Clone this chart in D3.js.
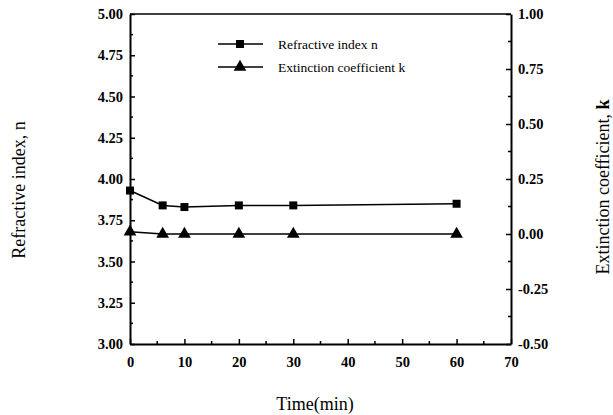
<!DOCTYPE html>
<html>
<head>
<meta charset="utf-8">
<script src="https://cdn.jsdelivr.net/npm/d3@7"></script>
<style>
  body { margin: 0; background: #fff; }
  svg text { font-family: "Liberation Serif", "Times New Roman", serif; fill: #000; }
  .tick-label { font-size: 14.5px; font-weight: bold; }
  .title { font-size: 18px; }
  .legend { font-size: 13.5px; }
</style>
</head>
<body>
<div id="chart"></div>
<script>
// Data
const times = [0, 6, 10, 20, 30, 60];
const refractiveN = [3.93, 3.84, 3.83, 3.84, 3.84, 3.85];
const extinctionK = [0.01, 0.0, 0.0, 0.0, 0.0, 0.0];
const xTicks = [0, 10, 20, 30, 40, 50, 60, 70];
const nTicks = [3.00, 3.25, 3.50, 3.75, 4.00, 4.25, 4.50, 4.75, 5.00];
const kTicks = [-0.50, -0.25, 0.00, 0.25, 0.50, 0.75, 1.00];

const W = 613, H = 415;
const margin = { top: 14, right: 102, bottom: 71, left: 130 };
const width = W - margin.left - margin.right;
const height = H - margin.top - margin.bottom;

const svg = d3.select("#chart").append("svg")
    .attr("width", W).attr("height", H);

const g = svg.append("g")
    .attr("transform", `translate(${margin.left},${margin.top})`);

const x = d3.scaleLinear().domain([0, 70]).range([0, width]);
const yN = d3.scaleLinear().domain([3, 5]).range([height, 0]);
const yK = d3.scaleLinear().domain([-0.5, 1]).range([height, 0]);

const fmt2 = d => d3.format(".2f")(d).replace("\u2212", "-");

// frame top line
g.append("line").attr("x1", 0).attr("x2", width).attr("y1", 0).attr("y2", 0)
    .attr("stroke", "#000").attr("stroke-width", 1.5);

// minor ticks
const minorX = d3.range(5, 70, 10);
g.selectAll(".mx").data(minorX).enter().append("line")
    .attr("x1", d => x(d)).attr("x2", d => x(d))
    .attr("y1", height).attr("y2", height - 3)
    .attr("stroke", "#000").attr("stroke-width", 1.5);
const minorN = d3.range(3.125, 5, 0.25);
g.selectAll(".mn").data(minorN).enter().append("line")
    .attr("x1", 0).attr("x2", 3)
    .attr("y1", d => yN(d)).attr("y2", d => yN(d))
    .attr("stroke", "#000").attr("stroke-width", 1.5);
const minorK = d3.range(-0.375, 1, 0.25);
g.selectAll(".mk").data(minorK).enter().append("line")
    .attr("x1", width).attr("x2", width - 3)
    .attr("y1", d => yK(d)).attr("y2", d => yK(d))
    .attr("stroke", "#000").attr("stroke-width", 1.5);

function styleAxis(sel) {
    sel.attr("font-family", null).attr("font-size", null);
    sel.select(".domain").attr("stroke-width", 2);
    sel.selectAll(".tick line").attr("stroke-width", 1.5);
    sel.selectAll(".tick text").attr("class", "tick-label");
}

g.append("g")
    .attr("transform", `translate(0,${height})`)
    .call(d3.axisBottom(x).tickValues(xTicks).tickSizeInner(-5).tickSizeOuter(0).tickPadding(13).tickFormat(d3.format("d")))
    .call(styleAxis);

g.append("g")
    .call(d3.axisLeft(yN).tickValues(nTicks).tickSizeInner(-5).tickSizeOuter(0).tickPadding(7).tickFormat(fmt2))
    .call(styleAxis);

g.append("g")
    .attr("transform", `translate(${width},0)`)
    .call(d3.axisRight(yK).tickValues(kTicks).tickSizeInner(-5).tickSizeOuter(0).tickPadding(7).tickFormat(fmt2))
    .call(styleAxis);

// series
const nPts = times.map((t, i) => [t, refractiveN[i]]);
const kPts = times.map((t, i) => [t, extinctionK[i]]);

g.append("path").datum(nPts)
    .attr("fill", "none").attr("stroke", "#000").attr("stroke-width", 1.5)
    .attr("d", d3.line().x(d => x(d[0])).y(d => yN(d[1])));
g.append("path").datum(kPts)
    .attr("fill", "none").attr("stroke", "#000").attr("stroke-width", 1.5)
    .attr("d", d3.line().x(d => x(d[0])).y(d => yK(d[1])));

const sq = d3.symbol().type(d3.symbolSquare).size(64);
const tri = d3.symbol().type(d3.symbolTriangle).size(70);

g.selectAll(".sq").data(nPts).enter().append("path")
    .attr("d", sq).attr("fill", "#000")
    .attr("transform", d => `translate(${x(d[0])},${yN(d[1])})`);
g.selectAll(".tri").data(kPts).enter().append("path")
    .attr("d", tri).attr("fill", "#000")
    .attr("transform", d => `translate(${x(d[0])},${yK(d[1])})`);

// legend
const legend = [
    { label: "Refractive index n", sym: sq, y: 44 },
    { label: "Extinction coefficient k", sym: tri, y: 67 }
];
const lg = svg.append("g");
legend.forEach(l => {
    lg.append("line").attr("x1", 218).attr("x2", 263).attr("y1", l.y).attr("y2", l.y)
        .attr("stroke", "#000").attr("stroke-width", 1.5);
    lg.append("path").attr("d", l.sym).attr("fill", "#000")
        .attr("transform", `translate(240,${l.y})`);
    lg.append("text").attr("class", "legend").attr("x", 278).attr("y", l.y + 5).text(l.label);
});

// axis titles
svg.append("text").attr("class", "title")
    .attr("transform", "translate(25,190) rotate(-90)")
    .attr("text-anchor", "middle").text("Refractive index, n");
const kTitle = svg.append("text").attr("class", "title")
    .attr("transform", "translate(609,187) rotate(-90)")
    .attr("text-anchor", "middle");
kTitle.append("tspan").text("Extinction coefficient, ");
kTitle.append("tspan").attr("font-weight", "bold").text("k");
svg.append("text").attr("class", "title")
    .attr("x", 315).attr("y", 410)
    .attr("text-anchor", "middle").text("Time(min)");
</script>
</body>
</html>
